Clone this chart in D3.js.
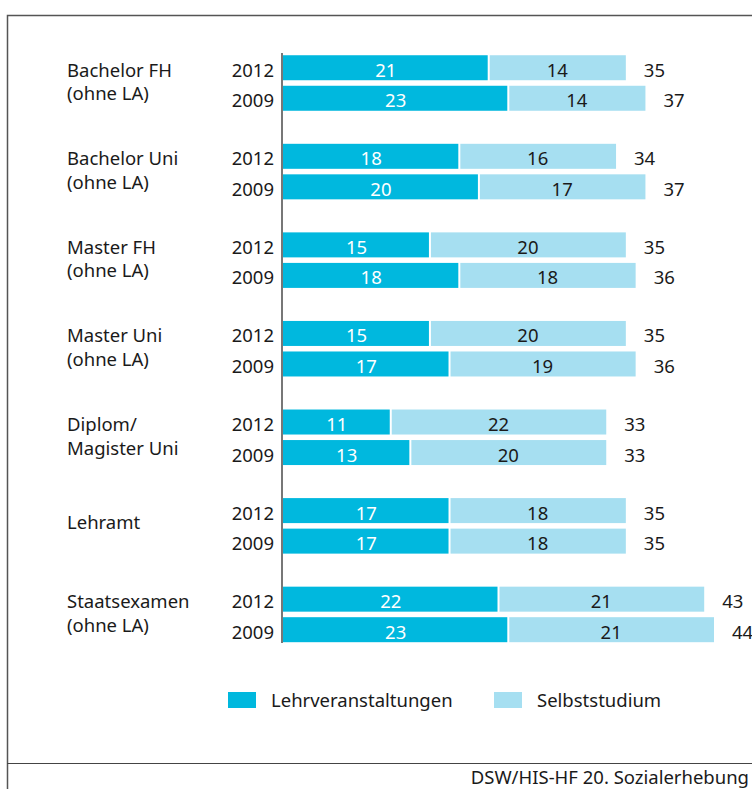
<!DOCTYPE html>
<html>
<head>
<meta charset="utf-8">
<script src="https://cdn.jsdelivr.net/npm/d3@7"></script>
<style>
  body { margin: 0; background: #fff; }
  svg { display: block; font-family: "Noto Sans", sans-serif; }
</style>
</head>
<body>
<div id="chart"></div>
<script>
// Studienarten, je zwei Jahre
const categories = [
  ["Bachelor FH", "(ohne LA)"],
  ["Bachelor Uni", "(ohne LA)"],
  ["Master FH", "(ohne LA)"],
  ["Master Uni", "(ohne LA)"],
  ["Diplom/", "Magister Uni"],
  ["Lehramt"],
  ["Staatsexamen", "(ohne LA)"]
];
const years = ["2012", "2009"];

// Stunden pro Woche
const lehr2012 = [21, 18, 15, 15, 11, 17, 22];
const selbst2012 = [14, 16, 20, 20, 22, 18, 21];
const total2012 = [35, 34, 35, 35, 33, 35, 43];
const lehr2009 = [23, 20, 18, 17, 13, 17, 23];
const selbst2009 = [14, 17, 18, 19, 20, 18, 21];
const total2009 = [37, 37, 36, 36, 33, 35, 44];

const seriesNames = ["Lehrveranstaltungen", "Selbststudium"];
const colors = ["#00b8de", "#a6dff1"];
const fs = 18.5;

const width = 752, height = 789;
const svg = d3.select("#chart").append("svg")
  .attr("width", width)
  .attr("height", height);

// frame
svg.append("rect")
  .attr("x", 7.5).attr("y", 15.5)
  .attr("width", 760).attr("height", 800)
  .attr("fill", "none").attr("stroke", "#555").attr("stroke-width", 1.5);
svg.append("line")
  .attr("x1", 7).attr("x2", 752).attr("y1", 763.5).attr("y2", 763.5)
  .attr("stroke", "#444").attr("stroke-width", 1.2);

const rows = [];
categories.forEach((c, i) => {
  rows.push({ cat: i, year: years[0], lehr: lehr2012[i], selbst: selbst2012[i], total: total2012[i] });
  rows.push({ cat: i, year: years[1], lehr: lehr2009[i], selbst: selbst2009[i], total: total2009[i] });
});

const x = d3.scaleLinear().domain([0, 44]).range([283, 714]);
const yGroup = d3.scaleBand().domain(d3.range(categories.length)).range([53, 673]);
const yInner = d3.scaleBand().domain(years).range([0, 58]).paddingInner(0.1);
const barH = 25;
const textY = 21.5; // baseline inside a row
const rowY = (cat, year) => yGroup(cat) + 1 + yInner(year) + (yInner.bandwidth() - barH) / 2;

const g = svg.append("g");

const row = g.selectAll("g.row").data(rows).join("g")
  .attr("class", "row")
  .attr("transform", d => `translate(0,${rowY(d.cat, d.year)})`);

// dark segment
row.append("rect")
  .attr("x", x(0))
  .attr("width", d => x(d.lehr) - x(0) - 1)
  .attr("height", barH)
  .attr("fill", colors[0]);
// light segment
row.append("rect")
  .attr("x", d => x(d.lehr) + 1)
  .attr("width", d => x(d.lehr + d.selbst) - x(d.lehr) - 1)
  .attr("height", barH)
  .attr("fill", colors[1]);

row.append("text")
  .attr("x", d => (x(0) + x(d.lehr)) / 2)
  .attr("y", textY)
  .attr("text-anchor", "middle")
  .attr("fill", "#fff")
  .attr("font-size", fs)
  .text(d => d.lehr);
row.append("text")
  .attr("x", d => (x(d.lehr) + x(d.lehr + d.selbst)) / 2)
  .attr("y", textY)
  .attr("text-anchor", "middle")
  .attr("fill", "#1a1a1a")
  .attr("font-size", fs)
  .text(d => d.selbst);
row.append("text")
  .attr("x", d => x(d.lehr + d.selbst) + 18)
  .attr("y", textY)
  .attr("fill", "#1a1a1a")
  .attr("font-size", fs)
  .text(d => d.total);
row.append("text")
  .attr("x", 274)
  .attr("y", textY)
  .attr("text-anchor", "end")
  .attr("fill", "#1a1a1a")
  .attr("font-size", fs)
  .text(d => d.year);

// category labels
const catG = g.selectAll("text.cat").data(categories).join("text")
  .attr("class", "cat")
  .attr("font-size", fs)
  .attr("fill", "#1a1a1a");
catG.selectAll("tspan").data((d, i) => d.map((t, j) => ({ t, i, j, n: d.length }))).join("tspan")
  .attr("x", 67)
  .attr("y", d => rowY(d.i, years[0]) + textY + (d.n === 1 ? 9 : d.j * 23.5))
  .text(d => d.t);

// axis line
svg.append("line")
  .attr("x1", 282).attr("x2", 282)
  .attr("y1", 53).attr("y2", 643)
  .attr("stroke", "#777").attr("stroke-width", 2);

// legend
const legendX = [228, 494];
const leg = svg.selectAll("g.leg").data(seriesNames).join("g")
  .attr("class", "leg")
  .attr("transform", (d, i) => `translate(${legendX[i]},692)`);
leg.append("rect").attr("width", 28).attr("height", 16).attr("fill", (d, i) => colors[i]);
leg.append("text")
  .attr("x", 43).attr("y", 8).attr("dy", "0.36em")
  .attr("font-size", fs).attr("fill", "#1a1a1a")
  .text(d => d);

// source
svg.append("text")
  .attr("x", 749).attr("y", 784)
  .attr("text-anchor", "end")
  .attr("font-size", fs).attr("fill", "#1a1a1a")
  .text("DSW/HIS-HF 20. Sozialerhebung");
</script>
</body>
</html>
